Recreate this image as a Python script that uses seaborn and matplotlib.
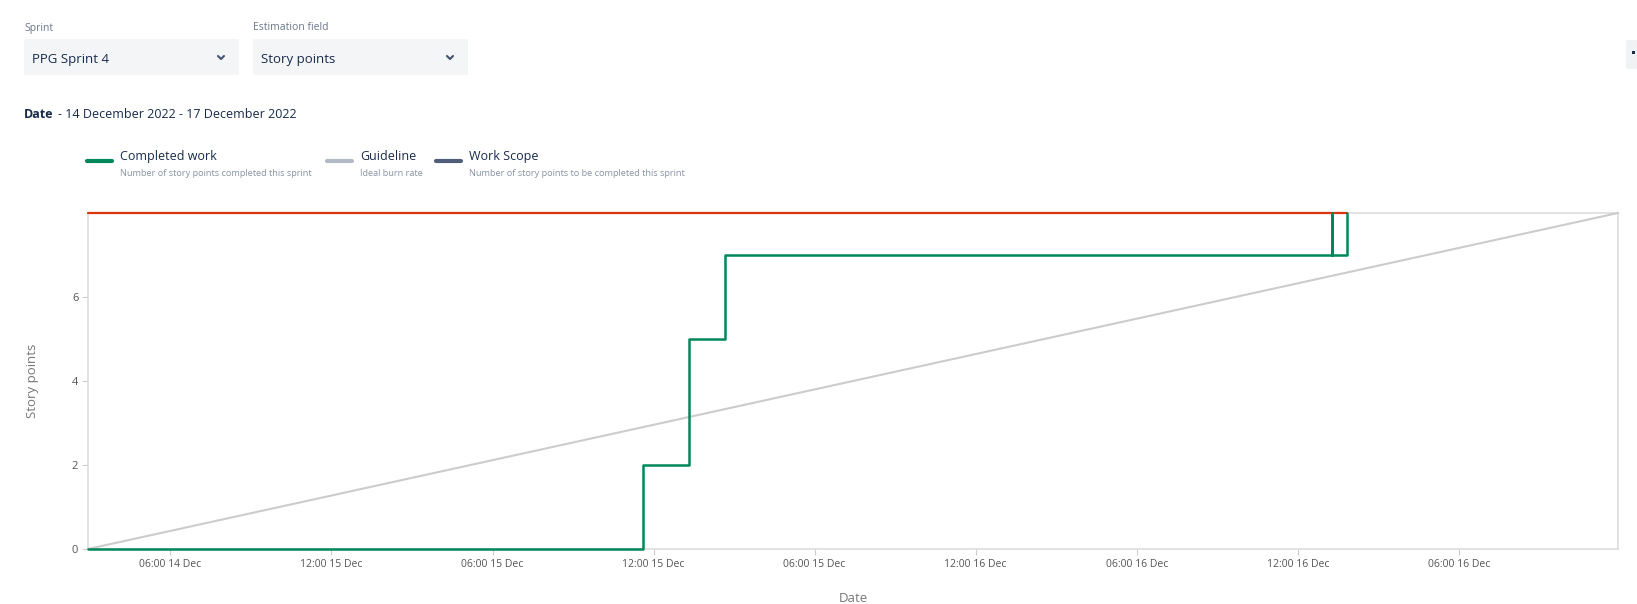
import numpy as np
import pandas as pd
import seaborn as sns
import matplotlib
matplotlib.use("Agg")
import matplotlib.pyplot as plt
from matplotlib.patches import FancyBboxPatch, Rectangle
from matplotlib.lines import Line2D

# ---------------- data (hours since sprint start) ----------------
completed_hours = [0.0, 20.67, 22.39, 23.73, 46.35, 46.35, 46.91]
completed_points = [0, 2, 5, 7, 8, 7, 8]
scope_hours = [0.0, 46.91]
scope_points = [8, 8]
guide_hours = [0.0, 57.0]
guide_points = [0, 8]
x_tick_hours = [3.07, 9.07, 15.07, 21.07, 27.07, 33.07, 39.07, 45.07, 51.07]
x_tick_labels = ["06:00 14 Dec", "12:00 15 Dec", "06:00 15 Dec", "12:00 15 Dec",
                 "06:00 15 Dec", "12:00 16 Dec", "06:00 16 Dec", "12:00 16 Dec",
                 "06:00 16 Dec"]
y_ticks = [0, 2, 4, 6]
series_names = ["Completed work", "Guideline", "Work Scope"]
series_desc = ["Number of story points completed this sprint", "Ideal burn rate",
               "Number of story points to be completed this sprint"]

W, H = 1637, 604
GREEN = "#00875a"
RED = "#de350b"
GUIDE = "#cccccc"
LEG_GUIDE = "#b3bac5"
LEG_SCOPE = "#505f79"
DARK = "#172b4d"
MUTED = "#6b778c"

sns.set_theme(style="white")
plt.rcParams["font.family"] = ["Open Sans", "DejaVu Sans"]

fig = plt.figure(figsize=(W / 100, H / 100), dpi=100)
fig.patch.set_facecolor("white")

def fx(x):
    return x / W

def fy(y):
    return 1 - y / H

ax_l, ax_r, ax_t, ax_b = 88, 1618, 213, 549
ax = fig.add_axes([fx(ax_l), fy(ax_b), (ax_r - ax_l) / W, (ax_b - ax_t) / H])

df_c = pd.DataFrame({"hours": completed_hours, "points": completed_points})
df_s = pd.DataFrame({"hours": scope_hours, "points": scope_points})
df_g = pd.DataFrame({"hours": guide_hours, "points": guide_points})

sns.lineplot(data=df_g, x="hours", y="points", ax=ax, color=GUIDE, lw=1.5,
             estimator=None, sort=False, zorder=2)
sns.lineplot(data=df_s, x="hours", y="points", ax=ax, color=RED, lw=1.6,
             estimator=None, sort=False, zorder=3)
sns.lineplot(data=df_c, x="hours", y="points", ax=ax, color=GREEN, lw=1.8,
             estimator=None, sort=False, drawstyle="steps-post", zorder=4)
for ln in ax.lines:
    ln.set_clip_on(False)

ax.set_xlim(0, 57.0)
ax.set_ylim(0, 8)
ax.set_xticks(x_tick_hours)
ax.set_xticklabels(x_tick_labels)
ax.set_yticks(y_ticks)
ax.tick_params(axis="both", which="both", length=4, width=0.8, color="#cccccc",
               labelsize=7.5, labelcolor="#555555", pad=3, bottom=True, left=True)
ax.tick_params(axis="y", labelsize=8)
for s in ax.spines.values():
    s.set_color("#dddddd")
    s.set_linewidth(1.2)
    s.set_zorder(1)
ax.set_xlabel("Date", fontsize=9.5, color="#777777", labelpad=16)
ax.set_ylabel("Story points", fontsize=9.5, color="#777777", labelpad=24)
ax.grid(False)

# ---------------- header controls ----------------
for (x0, label, value) in [(24, "Sprint", "PPG Sprint 4"), (253, "Estimation field", "Story points")]:
    fig.text(fx(x0), fy(28), label, fontsize=7.5, color=MUTED, va="center", ha="left")
    box = FancyBboxPatch((fx(x0), fy(75)), fx(215), (75 - 39) / H,
                         boxstyle="round,pad=0,rounding_size=0.002",
                         transform=fig.transFigure, facecolor="#f4f5f7",
                         edgecolor="none", zorder=0)
    fig.patches.append(box)
    fig.text(fx(x0 + 8), fy(59), value, fontsize=9.5, color=DARK, va="center", ha="left")
    cx = x0 + 197
    fig.add_artist(Line2D([fx(cx - 3), fx(cx), fx(cx + 3)], [fy(56), fy(59), fy(56)],
                          transform=fig.transFigure, color="#42526e", lw=1.5,
                          solid_capstyle="round", solid_joinstyle="round"))

# right small control
fig.patches.append(FancyBboxPatch((fx(1626), fy(69)), fx(13), (69 - 40) / H,
                                  boxstyle="round,pad=0,rounding_size=0.002",
                                  transform=fig.transFigure, facecolor="#f1f2f4",
                                  edgecolor="none", zorder=0))
fig.patches.append(Rectangle((fx(1631.5), fy(54)), fx(3), 3 / H,
                             transform=fig.transFigure, facecolor=DARK,
                             edgecolor="none", zorder=1))

fig.text(fx(24), fy(114), "Date", fontsize=9, fontweight="bold", color=DARK,
         va="center", ha="left")
fig.text(fx(57.5), fy(114), "- 14 December 2022 - 17 December 2022", fontsize=9,
         color=DARK, va="center", ha="left")

# ---------------- legend ----------------
leg_colors = [GREEN, LEG_GUIDE, LEG_SCOPE]
leg_x = [87, 327, 436]
for name, desc, col, lx in zip(series_names, series_desc, leg_colors, leg_x):
    fig.add_artist(Line2D([fx(lx), fx(lx + 25)], [fy(161), fy(161)],
                          transform=fig.transFigure, color=col, lw=3))
    fig.text(fx(lx + 33), fy(157), name, fontsize=9, color=DARK, va="center", ha="left")
    fig.text(fx(lx + 33), fy(173), desc, fontsize=6.6, color="#8993a4", va="center", ha="left")

fig.savefig("out.png", dpi=100, facecolor="white")
